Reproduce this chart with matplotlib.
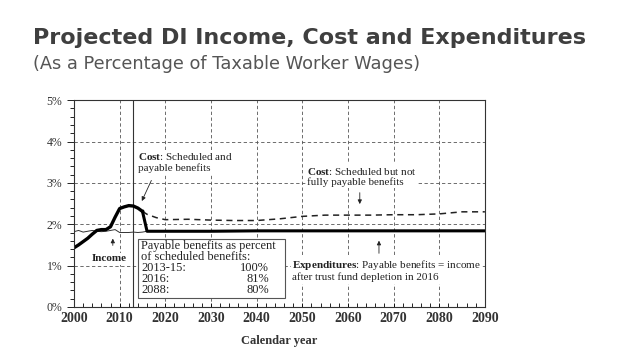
import matplotlib.pyplot as plt
from matplotlib.patches import Rectangle

# Cost of scheduled benefits (percent of taxable payroll)
cost_years = [2000, 2001, 2002, 2003, 2004, 2005, 2006, 2007, 2008, 2009, 2010,
              2011, 2012, 2013, 2014, 2015]
cost_vals = [1.43, 1.50, 1.58, 1.66, 1.76, 1.85, 1.87, 1.87, 1.94, 2.17, 2.38,
             2.42, 2.45, 2.44, 2.39, 2.31]

# Cost projected beyond trust fund depletion (dashed)
proj_years = [2015, 2016, 2018, 2020, 2025, 2030, 2035, 2040, 2045, 2050, 2055,
              2060, 2065, 2070, 2075, 2080, 2085, 2090]
proj_vals = [2.31, 2.24, 2.16, 2.11, 2.12, 2.10, 2.09, 2.09, 2.13, 2.19, 2.22,
             2.22, 2.22, 2.23, 2.23, 2.25, 2.30, 2.30]

# Income line
inc_years = [2000, 2001, 2002, 2003, 2004, 2005, 2006, 2007, 2008, 2009, 2010,
             2011, 2012, 2013, 2014, 2015, 2016]
inc_vals = [1.82, 1.85, 1.81, 1.83, 1.85, 1.83, 1.82, 1.83, 1.85, 1.87, 1.80,
            1.80, 1.80, 1.81, 1.80, 1.81, 1.83]

# Expenditures after depletion = income
exp_years = [2015, 2016, 2020, 2030, 2040, 2050, 2060, 2070, 2080, 2090]
exp_vals = [2.31, 1.83, 1.83, 1.83, 1.84, 1.84, 1.84, 1.84, 1.84, 1.84]

box_years = ['2013-15:', '2016:', '2088:']
box_pcts = ['100%', '81%', '80%']

serif = 'Liberation Serif'
plt.rcParams['mathtext.fontset'] = 'custom'
plt.rcParams['mathtext.rm'] = serif
plt.rcParams['mathtext.bf'] = serif + ':bold'

fig = plt.figure(figsize=(6.38, 3.59), dpi=100)
fig.text(0.052, 0.894, 'Projected DI Income, Cost and Expenditures',
         fontsize=16, fontweight='bold', color='#3f3f3f', va='center',
         family='DejaVu Sans')
fig.text(0.052, 0.822, '(As a Percentage of Taxable Worker Wages)',
         fontsize=12.8, color='#555555', va='center', family='DejaVu Sans')

ax = fig.add_axes([0.116, 0.145, 0.644, 0.576])
ax.set_xlim(2000, 2090)
ax.set_ylim(0, 5)

ax.set_xticks(range(2000, 2091, 10))
ax.set_xticks(range(2000, 2091, 2), minor=True)
ax.set_yticks(range(0, 6))
ax.set_yticks([i * 0.2 for i in range(26)], minor=True)
ax.set_yticklabels([f'{v}%' for v in range(0, 6)])
ax.tick_params(axis='x', which='both', direction='in', length=3, width=0.6)
ax.tick_params(axis='y', which='both', direction='out', length=3, width=0.6)
ax.tick_params(axis='y', which='major', length=5)
for lab in ax.get_xticklabels():
    lab.set_family(serif)
    lab.set_fontweight('bold')
    lab.set_fontsize(10)
    lab.set_color('#333333')
for lab in ax.get_yticklabels():
    lab.set_family(serif)
    lab.set_fontsize(8.5)
    lab.set_color('#333333')
ax.grid(True, which='major', linestyle=(0, (4, 3)), color='#555555', linewidth=0.6)
for sp in ax.spines.values():
    sp.set_linewidth(0.8)
    sp.set_color('#333333')

ax.axvline(2013, color='#333333', linewidth=0.8)

ax.plot(proj_years, proj_vals, color='#222222', linestyle=(0, (4, 3)), linewidth=1.1)
ax.plot(inc_years, inc_vals, color='#333333', linewidth=0.7)
ax.plot(exp_years, exp_vals, color='black', linewidth=2.2)
ax.plot(cost_years, cost_vals, color='black', linewidth=2.4)

white = dict(facecolor='white', edgecolor='none', pad=1)
tkw = dict(family=serif, fontsize=8, color='#222222', va='center', bbox=white)
arrow = dict(arrowstyle='-|>', color='#222222', lw=0.6, mutation_scale=6)

ax.text(2014, 3.5, r'$\bf{Cost}$: Scheduled and' + '\npayable benefits',
        linespacing=1.1, **tkw)
ax.annotate('', xy=(2014.6, 2.5), xytext=(2017.2, 3.12), arrowprops=arrow)

ax.text(2051, 3.16, r'$\bf{Cost}$: Scheduled but not' + '\nfully payable benefits',
        linespacing=1.1, **tkw)
ax.annotate('', xy=(2062.6, 2.42), xytext=(2062.6, 2.83), arrowprops=arrow)

ax.text(2047.8, 0.89, r'$\bf{Expenditures}$: Payable benefits = income'
        + '\nafter trust fund depletion in 2016', linespacing=1.1, **tkw)
ax.annotate('', xy=(2066.8, 1.67), xytext=(2066.8, 1.23), arrowprops=arrow)

ax.text(2007.6, 1.16, 'Income', family=serif, fontsize=8, fontweight='bold',
        color='#222222', ha='center', va='center', bbox=white)
ax.annotate('', xy=(2008.5, 1.72), xytext=(2008.5, 1.42), arrowprops=arrow)

ax.add_patch(Rectangle((2014, 0.22), 32.2, 1.42, facecolor='white',
                       edgecolor='#555555', linewidth=0.8, zorder=5))
bkw = dict(family=serif, fontsize=8.9, color='#222222', va='center', zorder=6)
ax.text(2014.7, 1.47, 'Payable benefits as percent', **bkw)
ax.text(2014.7, 1.21, 'of scheduled benefits:', **bkw)
for i, (yr, pc) in enumerate(zip(box_years, box_pcts)):
    yy = 0.95 - i * 0.27
    ax.text(2014.7, yy, yr, **bkw)
    ax.text(2042.7, yy, pc, ha='right', **bkw)

ax.set_xlabel('Calendar year', family=serif, fontsize=9, fontweight='bold',
              color='#333333', labelpad=7)

fig.savefig('out.png', dpi=100)
